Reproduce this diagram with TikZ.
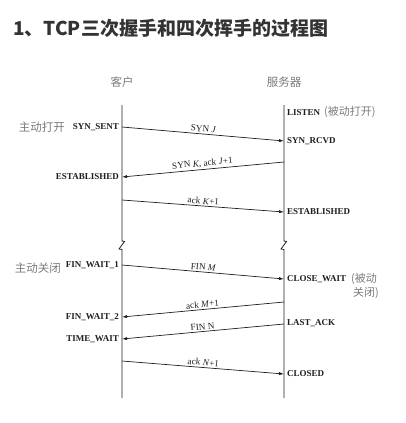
\documentclass[tikz,border=0pt]{standalone}
\usepackage{fontspec}
\setmainfont{Liberation Serif}
\newfontfamily\cjk{Noto Sans CJK SC}
\usetikzlibrary{arrows.meta}
\definecolor{titlegray}{HTML}{333333}
\definecolor{notegray}{HTML}{7A7A7A}
\definecolor{inkgray}{HTML}{1E1E1E}
\tikzset{
  state/.style={font=\bfseries\fontsize{9}{11}\selectfont, text=inkgray, inner sep=0pt},
  msg/.style={-{Latex[length=5pt,width=3.2pt]}, line width=0.7pt, draw=inkgray},
  msglabel/.style={font=\fontsize{9.2}{11}\selectfont, text=inkgray, sloped, above, inner sep=1.5pt},
  note/.style={font=\cjk\fontsize{11.5}{13}\selectfont, text=notegray, inner sep=0pt},
  timeline/.style={line width=0.8pt, draw=inkgray},
}
\begin{document}
\begin{tikzpicture}[x=1pt,y=-1pt]
\useasboundingbox (0,0) rectangle (406,423);
% title
\node[anchor=west, font=\cjk\bfseries\fontsize{19}{22}\selectfont, text=titlegray, inner sep=0pt] (title) at (13,28) {1、TCP三次握手和四次挥手的过程图};
% the two hosts
\node[note] (client) at (122,82) {客户};
\node[note] (server) at (284,82) {服务器};
\draw[timeline] (122,105) -- (122,241) -- (124.5,241.5) -- (119,249) -- (122,249.5) -- (122,398);
\draw[timeline] (284,105) -- (284,241) -- (286.5,241.5) -- (281,249) -- (284,249.5) -- (284,398);
% points on the client line
\coordinate (c1) at (122,127);
\coordinate (c2) at (122,177);
\coordinate (c3) at (122,200);
\coordinate (c4) at (122,265);
\coordinate (c5) at (122,317);
\coordinate (c6) at (122,339);
\coordinate (c7) at (122,361);
% points on the server line
\coordinate (s0) at (284,112);
\coordinate (s1) at (284,141);
\coordinate (s2) at (284,162);
\coordinate (s3) at (284,212);
\coordinate (s4) at (284,279);
\coordinate (s5) at (284,302);
\coordinate (s6) at (284,324);
\coordinate (s7) at (284,374);
% states of the client
\node[state, left=3pt] (syns) at (c1) {SYN\_SENT};
\node[note, anchor=east] at (65,127) {主动打开};
\node[state, left=3pt] (estc) at (c2) {ESTABLISHED};
\node[state, left=3pt] (fw1) at (c4) {FIN\_WAIT\_1};
\node[note, anchor=east] at (61,268) {主动关闭};
\node[state, left=3pt] (fw2) at (c5) {FIN\_WAIT\_2};
\node[state, left=3pt] (tw) at (c6) {TIME\_WAIT};
% states of the server
\node[state, right=3pt] (lis) at (s0) {LISTEN\hspace{4pt}{\cjk\mdseries\fontsize{11}{13}\selectfont\color{notegray}(被动打开)}};
\node[state, right=3pt] (synr) at (s1) {SYN\_RCVD};
\node[state, right=3pt] (ests) at (s3) {ESTABLISHED};
\node[state, right=3pt] (cw) at (s4) {CLOSE\_WAIT};
\node[note, anchor=west, font=\cjk\fontsize{11}{13}\selectfont] at (351,279) {(被动};
\node[note, anchor=west, font=\cjk\fontsize{11}{13}\selectfont] at (353,293) {关闭)};
\node[state, right=3pt] (la) at (284,323) {LAST\_ACK};
\node[state, right=3pt] (cl) at (s7) {CLOSED};
% segments
\draw[msg] (c1) -- node[msglabel] {SYN \textit{J}} (s1);
\draw[msg] (s2) -- node[msglabel] {SYN \textit{K}, ack \textit{J}+1} (c2);
\draw[msg] (c3) -- node[msglabel] {ack \textit{K}+1} (s3);
\draw[msg] (c4) -- node[msglabel] {FIN \textit{M}} (s4);
\draw[msg] (s5) -- node[msglabel] {ack \textit{M}+1} (c5);
\draw[msg] (s6) -- node[msglabel] {FIN N} (c6);
\draw[msg] (c7) -- node[msglabel] {ack \textit{N}+1} (s7);
\end{tikzpicture}
\end{document}
